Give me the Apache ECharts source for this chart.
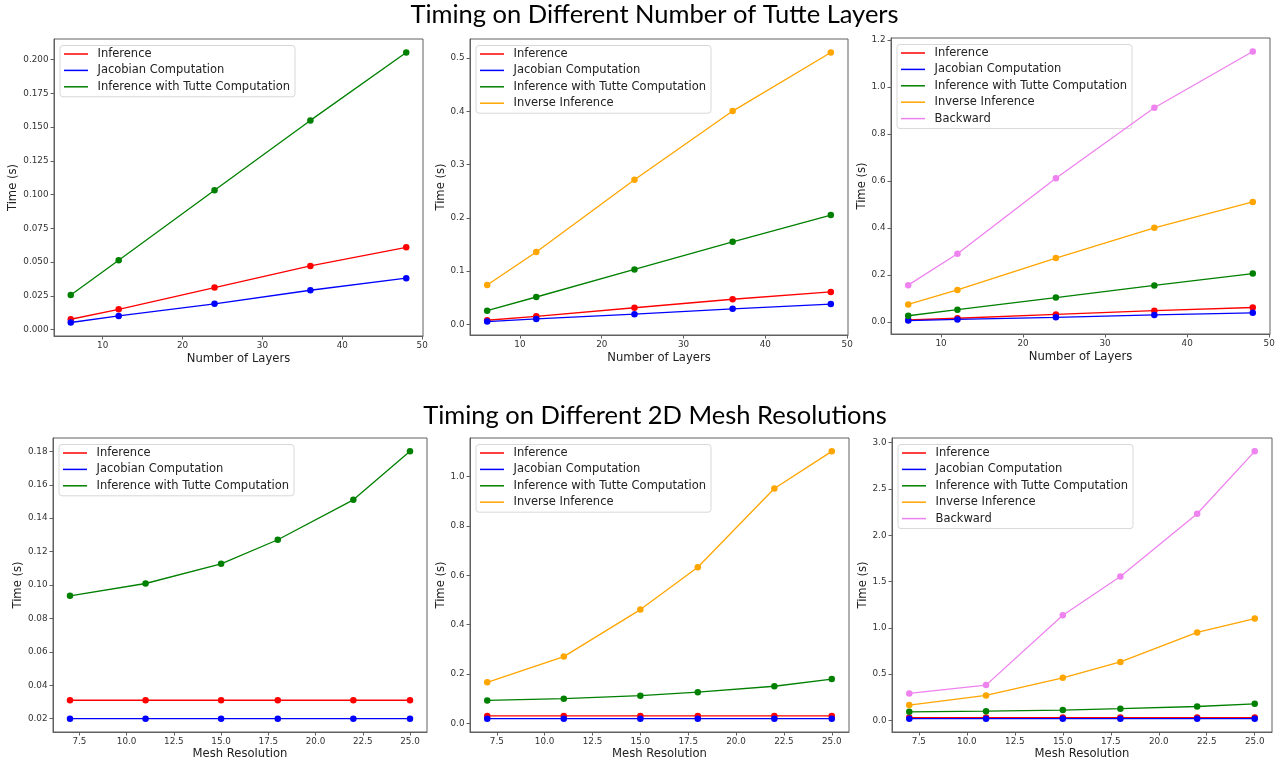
<!DOCTYPE html>
<html><head><meta charset="utf-8">
<script src="https://cdn.jsdelivr.net/npm/echarts@6/dist/echarts.min.js"></script>
<style>html,body{margin:0;padding:0;background:#fff}#c{width:1283px;height:763px}</style>
</head><body><div id="c"></div>
<script>
// ---------- data ----------
const layers = [6, 12, 24, 36, 48];
const layersInference = [0.0076, 0.0150, 0.0311, 0.0471, 0.0609];
const layersJacobian = [0.0052, 0.0101, 0.0190, 0.0291, 0.0380];
const layersTutte = [0.0256, 0.0513, 0.1031, 0.1549, 0.2052];
const layersInverse = [0.0738, 0.1358, 0.2716, 0.4005, 0.5106];
const layersBackward = [0.156, 0.290, 0.612, 0.912, 1.152];

const resolutions = [7, 11, 15, 18, 22, 25];
const resInference = [0.031, 0.031, 0.031, 0.031, 0.031, 0.031];
const resJacobian = [0.020, 0.020, 0.020, 0.020, 0.020, 0.020];
const resTutte = [0.0935, 0.1009, 0.1127, 0.1271, 0.1510, 0.1800];
const resInverse = [0.167, 0.271, 0.461, 0.632, 0.951, 1.101];
const resBackward = [0.292, 0.382, 1.136, 1.554, 2.232, 2.906];

const layerTicks = [10, 20, 30, 40, 50];
const resTicks = [7.5, 10, 12.5, 15, 17.5, 20, 22.5, 25];
const yTicksP1 = [0, 0.025, 0.05, 0.075, 0.1, 0.125, 0.15, 0.175, 0.2];
const yTicksP2 = [0, 0.1, 0.2, 0.3, 0.4, 0.5];
const yTicksP3 = [0, 0.2, 0.4, 0.6, 0.8, 1.0, 1.2];
const yTicksP4 = [0.02, 0.04, 0.06, 0.08, 0.10, 0.12, 0.14, 0.16, 0.18];
const yTicksP5 = [0, 0.2, 0.4, 0.6, 0.8, 1.0];
const yTicksP6 = [0, 0.5, 1.0, 1.5, 2.0, 2.5, 3.0];

const seriesNames = ['Inference', 'Jacobian Computation', 'Inference with Tutte Computation', 'Inverse Inference', 'Backward'];
const titleTop = 'Timing on Different Number of Tutte Layers';
const titleBottom = 'Timing on Different 2D Mesh Resolutions';

// ---------- styling / layout ----------
const colors = ['#ff0000', '#0000ff', '#008000', '#ffa500', '#ee82ee'];
const FONT = 'DejaVu Sans';
const FRAME = '#606060';

const panels = [
  {box:[54,39,423,336], x:layers, xt:layerTicks, xd:0, yt:yTicksP1, yd:3, ys:[layersInference,layersJacobian,layersTutte], xname:'Number of Layers', xgap:17, ygap:35},
  {box:[470,39,848,335], x:layers, xt:layerTicks, xd:0, yt:yTicksP2, yd:1, ys:[layersInference,layersJacobian,layersTutte,layersInverse], xname:'Number of Layers', xgap:16.5, ygap:22.5},
  {box:[891,38,1270,334], x:layers, xt:layerTicks, xd:0, yt:yTicksP3, yd:1, ys:[layersInference,layersJacobian,layersTutte,layersInverse,layersBackward], xname:'Number of Layers', xgap:16.5, ygap:22.5},
  {box:[53,438,427,732], x:resolutions, xt:resTicks, xd:1, yt:yTicksP4, yd:2, ys:[resInference,resJacobian,resTutte], xname:'Mesh Resolution', xgap:16, ygap:27.5},
  {box:[470,438,849,732], x:resolutions, xt:resTicks, xd:1, yt:yTicksP5, yd:1, ys:[resInference,resJacobian,resTutte,resInverse], xname:'Mesh Resolution', xgap:15.5, ygap:22.5},
  {box:[892,438,1272,732], x:resolutions, xt:resTicks, xd:1, yt:yTicksP6, yd:1, ys:[resInference,resJacobian,resTutte,resInverse,resBackward], xname:'Mesh Resolution', xgap:15.5, ygap:22.5}
];

function pad(arr) {
  const lo = Math.min(...arr), hi = Math.max(...arr), r = hi - lo;
  return [lo - 0.05 * r, hi + 0.05 * r];
}

const grid = [], xAxis = [], yAxis = [], series = [], legend = [];
panels.forEach((p, i) => {
  const [l, t, r, b] = p.box;
  grid.push({left:l, top:t, width:r-l, height:b-t, show:true, borderColor:FRAME, borderWidth:1, backgroundColor:'transparent', containLabel:false});
  const xr = pad(p.x);
  const yr = pad([].concat(...p.ys));
  xAxis.push({
    gridIndex:i, type:'value', min:xr[0], max:xr[1],
    axisLine:{show:true, onZero:false, lineStyle:{color:FRAME, width:1}}, splitLine:{show:false},
    axisTick:{show:true, inside:false, length:3.5, lineStyle:{color:FRAME, width:1}, customValues:p.xt},
    axisLabel:{customValues:p.xt, formatter:(v)=>Number(v).toFixed(p.xd), margin:5, fontSize:8.8, fontFamily:FONT, color:'#333'},
    name:p.xname, nameLocation:'middle', nameGap:p.xgap,
    nameTextStyle:{fontFamily:FONT, fontSize:11.6, color:'#222'}
  });
  yAxis.push({
    gridIndex:i, type:'value', min:yr[0], max:yr[1],
    axisLine:{show:true, onZero:false, lineStyle:{color:FRAME, width:1}}, splitLine:{show:false},
    axisTick:{show:true, inside:false, length:3.5, lineStyle:{color:FRAME, width:1}, customValues:p.yt},
    axisLabel:{customValues:p.yt, formatter:(v)=>Number(v).toFixed(p.yd), margin:5.5, fontSize:8.8, fontFamily:FONT, color:'#333'},
    name:'Time (s)', nameLocation:'middle', nameGap:p.ygap,
    nameTextStyle:{fontFamily:FONT, fontSize:11.6, color:'#222'}
  });
  const names = [];
  p.ys.forEach((vals, k) => {
    names.push(seriesNames[k]);
    series.push({
      type:'line', name:seriesNames[k], xAxisIndex:i, yAxisIndex:i,
      data:p.x.map((xv, j) => [xv, vals[j]]),
      symbol:'circle', symbolSize:6.5, showSymbol:true,
      lineStyle:{color:colors[k], width:1.3},
      itemStyle:{color:colors[k]},
      emphasis:{disabled:true}, silent:true, z:2+k
    });
  });
  legend.push({
    data:names, orient:'vertical', left:l+6, top:t+6.5,
    icon:'rect', itemWidth:24, itemHeight:1.5, itemGap:2.4,
    padding:[1.5, 5, 3, 4],
    backgroundColor:'rgba(255,255,255,0.8)', borderColor:'#d8d8d8', borderWidth:1, borderRadius:3,
    textStyle:{fontFamily:FONT, fontSize:11.5, color:'#222', lineHeight:14, padding:[0,0,0,4.5]},
    selectedMode:false
  });
});

const chart = echarts.init(document.getElementById('c'), null, {renderer:'canvas'});
chart.setOption({
  backgroundColor:'#ffffff',
  animation:false,
  grid, xAxis, yAxis, series, legend,
  graphic:[
    {type:'text', x:654.5, y:15, style:{text:titleTop, align:'center', verticalAlign:'middle', fontFamily:'Lato', fontSize:25.5, fill:'#000'}},
    {type:'text', x:655, y:416, style:{text:titleBottom, align:'center', verticalAlign:'middle', fontFamily:'Lato', fontSize:25.5, fill:'#000'}}
  ]
});
</script>
</body></html>
